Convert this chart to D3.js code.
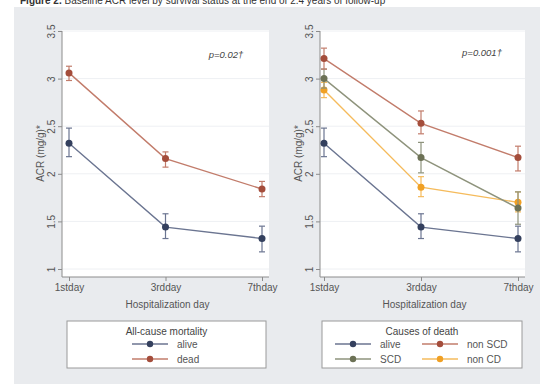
<!DOCTYPE html>
<html>
<head>
<meta charset="utf-8">
<script src="https://cdn.jsdelivr.net/npm/d3@7"></script>
<style>
  html, body { margin: 0; padding: 0; background: #fff; }
  svg { display: block; font-family: "Liberation Sans", Arial, sans-serif; }
</style>
</head>
<body>
<svg id="chart" width="540" height="384"></svg>
<script>
// Hospitalization days and y-axis ticks
const days = ["1stday", "3rdday", "7thday"];
const yTicks = [1, 1.5, 2, 2.5, 3, 3.5];

// Mean ACR (mg/g) with 95% CI bounds, per group
const aliveMean = [2.32, 1.44, 1.32];
const aliveLow  = [2.18, 1.32, 1.18];
const aliveHigh = [2.48, 1.58, 1.45];

const deadMean = [3.06, 2.16, 1.84];
const deadLow  = [2.98, 2.07, 1.76];
const deadHigh = [3.13, 2.23, 1.92];

const nonScdMean = [3.21, 2.53, 2.17];
const nonScdLow  = [3.10, 2.42, 2.03];
const nonScdHigh = [3.32, 2.66, 2.29];

const scdMean = [3.00, 2.17, 1.64];
const scdLow  = [2.90, 2.01, 1.47];
const scdHigh = [3.10, 2.33, 1.81];

const nonCdMean = [2.88, 1.86, 1.70];
const nonCdLow  = [2.80, 1.76, 1.60];
const nonCdHigh = [2.96, 1.97, 1.81];

const panelTitles = ["All-cause mortality", "Causes of death"];
const pValues = ["p=0.02\u2020", "p=0.001\u2020"];

const palette = {
  alive:  { marker: "#34405e", line: "#6b7591" },
  dead:   { marker: "#a44d3b", line: "#c27c6b" },
  scd:    { marker: "#6c7155", line: "#8e937c" },
  nonScd: { marker: "#a44d3b", line: "#c27c6b" },
  nonCd:  { marker: "#f0a024", line: "#f5bb5c" }
};

const series = {
  alive:  { name: "alive",   mean: aliveMean,  low: aliveLow,  high: aliveHigh,  col: palette.alive },
  dead:   { name: "dead",    mean: deadMean,   low: deadLow,   high: deadHigh,   col: palette.dead },
  scd:    { name: "SCD",     mean: scdMean,    low: scdLow,    high: scdHigh,    col: palette.scd },
  nonScd: { name: "non SCD", mean: nonScdMean, low: nonScdLow, high: nonScdHigh, col: palette.nonScd },
  nonCd:  { name: "non CD",  mean: nonCdMean,  low: nonCdLow,  high: nonCdHigh,  col: palette.nonCd }
};

const svg = d3.select("#chart");

// Caption (runs off the top edge)
svg.append("text")
  .attr("x", 20).attr("y", 4)
  .attr("font-size", 10).attr("fill", "#333")
  .html('<tspan font-weight="bold">Figure 2.</tspan> Baseline ACR level by survival status at the end of 2.4 years of follow-up');

// Graph region backdrop
svg.append("rect")
  .attr("x", 14).attr("y", 7).attr("width", 526).attr("height", 377)
  .attr("fill", "#e9ebee");

const panels = [
  { plot: { x0: 62, x1: 269 }, pts: [69, 262], groups: ["alive", "dead"], legend: { x: 67, w: 199, cols: 1 }, p: { x: 226, y: 58 } },
  { plot: { x0: 320, x1: 525 }, pts: [324, 518], groups: ["alive", "nonScd", "scd", "nonCd"], legend: { x: 322, w: 200, cols: 2 }, p: { x: 482, y: 56 } }
];

const plotTop = 30, plotBottom = 277;
const y = d3.scaleLinear().domain([1, 3.5]).range([269, 31]);

panels.forEach((pn, i) => {
  const g = svg.append("g");
  const x = d3.scalePoint().domain(days).range(pn.pts);

  // plot area
  g.append("rect")
    .attr("x", pn.plot.x0).attr("y", plotTop)
    .attr("width", pn.plot.x1 - pn.plot.x0).attr("height", plotBottom - plotTop)
    .attr("fill", "#fff");

  // gridlines
  g.selectAll(".grid").data(yTicks).join("line")
    .attr("x1", pn.plot.x0).attr("x2", pn.plot.x1)
    .attr("y1", d => y(d)).attr("y2", d => y(d))
    .attr("stroke", "#eef0f3").attr("stroke-width", 1);

  // y axis, labels rotated to read bottom-up
  const yAxis = g.append("g")
    .attr("transform", `translate(${pn.plot.x0},0)`)
    .call(d3.axisLeft(y).tickValues(yTicks).tickSize(4).tickFormat(d3.format("")));
  yAxis.select(".domain").attr("stroke", "#8c8c8c").attr("d", `M0,${y(3.5)}V${plotBottom}`);
  yAxis.selectAll(".tick line").attr("stroke", "#8c8c8c");
  yAxis.selectAll(".tick text")
    .attr("fill", "#555").attr("font-size", 10)
    .attr("transform", "rotate(-90)")
    .attr("x", 0).attr("y", -7.5).attr("dy", null)
    .attr("text-anchor", "middle");

  // x axis
  const xAxis = g.append("g")
    .attr("transform", `translate(0,${plotBottom})`)
    .call(d3.axisBottom(x).tickSize(4).tickPadding(3));
  xAxis.select(".domain").attr("stroke", "#8c8c8c").attr("d", `M${pn.plot.x0},0H${pn.plot.x1}`);
  xAxis.selectAll(".tick line").attr("stroke", "#8c8c8c");
  xAxis.selectAll(".tick text").attr("fill", "#555").attr("font-size", 10);

  // axis titles
  g.append("text")
    .attr("transform", `translate(${pn.plot.x0 - 18},${(plotTop + plotBottom) / 2}) rotate(-90)`)
    .attr("text-anchor", "middle").attr("font-size", 10).attr("fill", "#555")
    .text("ACR (mg/g)*");
  g.append("text")
    .attr("x", (pn.plot.x0 + pn.plot.x1) / 2 + 2).attr("y", 308)
    .attr("text-anchor", "middle").attr("font-size", 10).attr("fill", "#555")
    .text("Hospitalization day");

  // p-value
  g.append("text")
    .attr("x", pn.p.x).attr("y", pn.p.y)
    .attr("text-anchor", "middle").attr("font-size", 9.5).attr("font-style", "italic").attr("fill", "#444")
    .text(pValues[i]);

  // series: connecting line, CI whiskers with caps, markers
  const line = d3.line().x((d, j) => x(days[j])).y(d => y(d));
  pn.groups.slice().reverse().forEach(key => {
    const s = series[key];
    const sg = g.append("g");
    sg.append("path").datum(s.mean)
      .attr("d", line).attr("fill", "none")
      .attr("stroke", s.col.line).attr("stroke-width", 1.4);
    days.forEach((d, j) => {
      const cx = x(d);
      sg.append("line")
        .attr("x1", cx).attr("x2", cx)
        .attr("y1", y(s.low[j])).attr("y2", y(s.high[j]))
        .attr("stroke", s.col.line).attr("stroke-width", 1.2);
      [s.low[j], s.high[j]].forEach(v => {
        sg.append("line")
          .attr("x1", cx - 3).attr("x2", cx + 3)
          .attr("y1", y(v)).attr("y2", y(v))
          .attr("stroke", s.col.line).attr("stroke-width", 1.2);
      });
    });
    sg.selectAll("circle").data(s.mean).join("circle")
      .attr("cx", (d, j) => x(days[j])).attr("cy", d => y(d))
      .attr("r", 3.5).attr("fill", s.col.marker);
  });

  // legend
  const lg = g.append("g");
  lg.append("rect")
    .attr("x", pn.legend.x).attr("y", 321)
    .attr("width", pn.legend.w).attr("height", 47)
    .attr("fill", "#fff").attr("stroke", "#9a9a9a").attr("stroke-width", 1);
  lg.append("text")
    .attr("x", pn.legend.x + pn.legend.w / 2).attr("y", 335)
    .attr("text-anchor", "middle").attr("font-size", 10).attr("fill", "#444")
    .text(panelTitles[i]);
  pn.groups.forEach((key, k) => {
    const s = series[key];
    let lx, ly;
    if (pn.legend.cols === 1) {
      lx = 132; ly = 344 + k * 15;
    } else {
      lx = (k % 2 === 0) ? 335 : 422;
      ly = 344 + Math.floor(k / 2) * 15;
    }
    lg.append("line")
      .attr("x1", lx).attr("x2", lx + 36).attr("y1", ly).attr("y2", ly)
      .attr("stroke", s.col.line).attr("stroke-width", 1.4);
    lg.append("circle")
      .attr("cx", lx + 18).attr("cy", ly).attr("r", 3.2).attr("fill", s.col.marker);
    lg.append("text")
      .attr("x", lx + 45).attr("y", ly + 3.5)
      .attr("font-size", 10).attr("fill", "#555")
      .text(s.name);
  });
});
</script>
</body>
</html>
